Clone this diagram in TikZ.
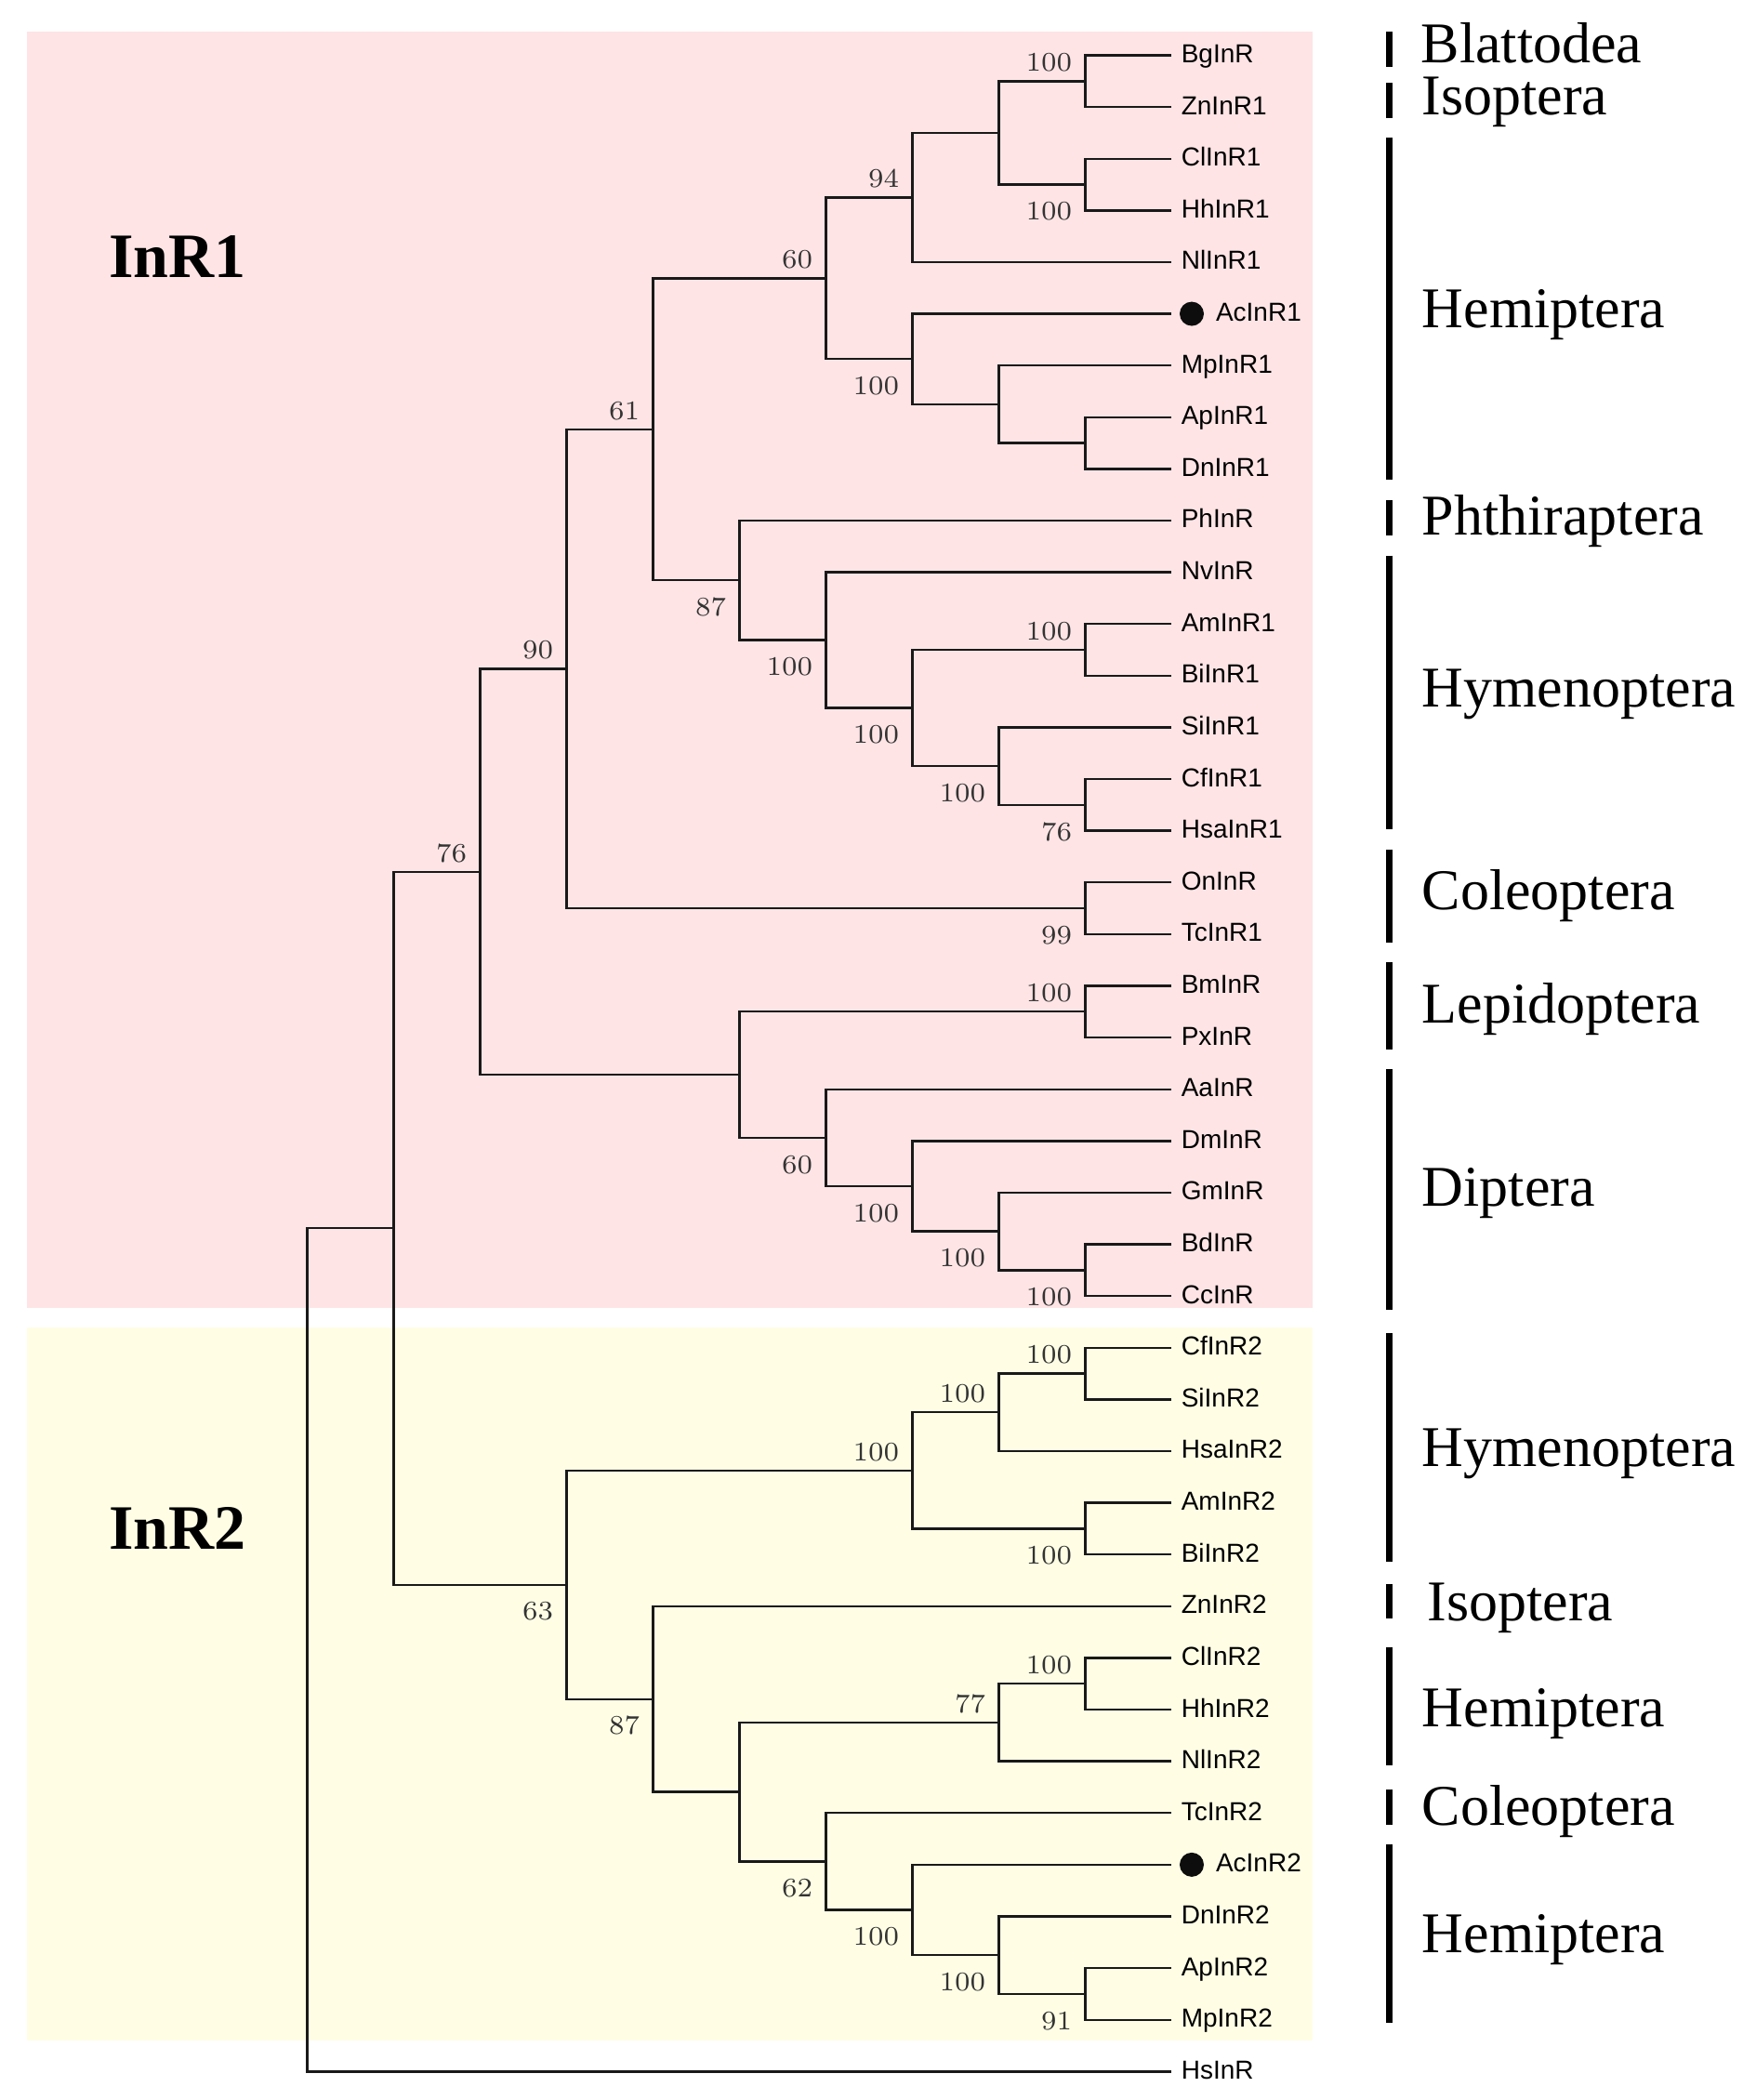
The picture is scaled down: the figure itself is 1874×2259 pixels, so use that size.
\documentclass[tikz,border=0pt]{standalone}
\usepackage{fontspec}
\usepackage{tikz}
\usetikzlibrary{positioning}
\newfontfamily\timesf{Liberation Serif}
\newfontfamily\arialf{Liberation Sans}
\definecolor{pinkbg}{RGB}{254,228,229}
\definecolor{yellowbg}{RGB}{255,254,229}

\begin{document}
\begin{tikzpicture}[
    x=0.25pt, y=-0.25pt,
    branch/.style={draw=black!90, line width=0.6pt},
    leaf/.style={anchor=west, inner xsep=2.6pt, inner ysep=0pt, outer sep=0pt, text height=4pt, text depth=0pt, font=\arialf\fontsize{7}{8}\selectfont},
    acdot/.style={circle, fill=black!95, inner sep=0pt, minimum size=6.5pt, outer sep=2.15pt, anchor=west},
    boot/.style={anchor=base east, inner sep=0pt, text=black!80, font=\fontsize{7.25}{8}\selectfont},
    bsup/.style={boot, xshift=-3.35pt, yshift=2.65pt},
    bsdn/.style={boot, xshift=-3.35pt, yshift=-9.55pt},
    taxon/.style={anchor=base west, inner sep=0pt, font=\timesf\fontsize{15.5}{18}\selectfont},
    group/.style={anchor=base west, inner sep=0pt, font=\timesf\bfseries\fontsize{17}{20}\selectfont},
    bar/.style={line width=1.7pt}
]
\useasboundingbox (0,0) rectangle (1874,2259);

% Background panels
\fill[pinkbg] (28.7,33.5) rectangle (1411.5,1407);
\fill[yellowbg] (28.7,1428) rectangle (1411.5,2194.5);
\node[group] (g1) at (116.7,298.3) {InR1};
\node[group] (g2) at (116.7,1666.7) {InR2};

% Tree (x = depth, y = leaf row)
\begin{scope}[shift={(330.4,59.5)}, x=23.25pt, y=-13.9025pt]

% Leaves
\foreach \nm/\txt/\i in {bg/BgInR/0, zn1/ZnInR1/1, cl1/ClInR1/2, hh1/HhInR1/3, nl1/NlInR1/4,
    mp1/MpInR1/6, ap1/ApInR1/7, dn1/DnInR1/8, ph/PhInR/9, nv/NvInR/10, am1/AmInR1/11,
    bi1/BiInR1/12, si1/SiInR1/13, cf1/CfInR1/14, hsa1/HsaInR1/15, on/OnInR/16, tc1/TcInR1/17,
    bm/BmInR/18, px/PxInR/19, aa/AaInR/20, dm/DmInR/21, gm/GmInR/22, bd/BdInR/23, cc/CcInR/24,
    cf2/CfInR2/25, si2/SiInR2/26, hsa2/HsaInR2/27, am2/AmInR2/28, bi2/BiInR2/29, zn2/ZnInR2/30,
    cl2/ClInR2/31, hh2/HhInR2/32, nl2/NlInR2/33, tc2/TcInR2/34, dn2/DnInR2/36, ap2/ApInR2/37,
    mp2/MpInR2/38, hs/HsInR/39}
  \node[leaf] (\nm) at (10,\i) {\txt};

% Marked leaves
\node[acdot] (ac1) at (10,5) {};
\node[leaf, right=-1.5pt of ac1] (ac1t) {AcInR1};
\node[acdot] (ac2) at (10,35) {};
\node[leaf, right=-1.5pt of ac2] (ac2t) {AcInR2};

% Internal nodes
\coordinate (root) at (0,30.8447);
\coordinate (ins) at (1,22.6895);
\coordinate (r1) at (2,15.7930);
\coordinate (r1a) at (3,11.8672);
\coordinate (r1b) at (4,7.2344);
\coordinate (hemi1) at (6,4.3125);
\coordinate (hemi1a) at (7,2.75);
\coordinate (hemi1c) at (8,1.5);
\coordinate (bgzn) at (9,0.5);
\coordinate (clhh1) at (9,2.5);
\coordinate (hemi1b) at (7,5.875);
\coordinate (aphid1) at (8,6.75);
\coordinate (apdn1) at (9,7.5);
\coordinate (hym1ph) at (5,10.15625);
\coordinate (hym1) at (6,11.3125);
\coordinate (hym1a) at (7,12.625);
\coordinate (ambi1) at (9,11.5);
\coordinate (ant1) at (8,13.75);
\coordinate (cfhsa1) at (9,14.5);
\coordinate (cole1) at (9,16.5);
\coordinate (lepdip) at (5,19.71875);
\coordinate (bmpx) at (9,18.5);
\coordinate (dip) at (6,20.9375);
\coordinate (dipa) at (7,21.875);
\coordinate (dipb) at (8,22.75);
\coordinate (bdcc) at (9,23.5);
\coordinate (r2) at (3,29.5859);
\coordinate (hym2) at (7,27.375);
\coordinate (ant2) at (8,26.25);
\coordinate (cfsi2) at (9,25.5);
\coordinate (ambi2) at (9,28.5);
\coordinate (r2b) at (4,31.796875);
\coordinate (r2c) at (5,33.59375);
\coordinate (hemi2) at (8,32.25);
\coordinate (clhh2) at (9,31.5);
\coordinate (r2d) at (6,34.9375);
\coordinate (hemi2b) at (7,35.875);
\coordinate (aphid2) at (8,36.75);
\coordinate (apmp2) at (9,37.5);
\end{scope}

% Branches
\draw[branch] (root) |- (ins) (root) |- (hs);
\draw[branch] (ins) |- (r1) (ins) |- (r2);
\draw[branch] (r1) |- (r1a) (r1) |- (lepdip);
\draw[branch] (r1a) |- (r1b) (r1a) |- (cole1);
\draw[branch] (r1b) |- (hemi1) (r1b) |- (hym1ph);
\draw[branch] (hemi1) |- (hemi1a) (hemi1) |- (hemi1b);
\draw[branch] (hemi1a) |- (hemi1c) (hemi1a) |- (nl1);
\draw[branch] (hemi1c) |- (bgzn) (hemi1c) |- (clhh1);
\draw[branch] (bgzn) |- (bg) (bgzn) |- (zn1);
\draw[branch] (clhh1) |- (cl1) (clhh1) |- (hh1);
\draw[branch] (hemi1b) |- (ac1) (hemi1b) |- (aphid1);
\draw[branch] (aphid1) |- (mp1) (aphid1) |- (apdn1);
\draw[branch] (apdn1) |- (ap1) (apdn1) |- (dn1);
\draw[branch] (hym1ph) |- (ph) (hym1ph) |- (hym1);
\draw[branch] (hym1) |- (nv) (hym1) |- (hym1a);
\draw[branch] (hym1a) |- (ambi1) (hym1a) |- (ant1);
\draw[branch] (ambi1) |- (am1) (ambi1) |- (bi1);
\draw[branch] (ant1) |- (si1) (ant1) |- (cfhsa1);
\draw[branch] (cfhsa1) |- (cf1) (cfhsa1) |- (hsa1);
\draw[branch] (cole1) |- (on) (cole1) |- (tc1);
\draw[branch] (lepdip) |- (bmpx) (lepdip) |- (dip);
\draw[branch] (bmpx) |- (bm) (bmpx) |- (px);
\draw[branch] (dip) |- (aa) (dip) |- (dipa);
\draw[branch] (dipa) |- (dm) (dipa) |- (dipb);
\draw[branch] (dipb) |- (gm) (dipb) |- (bdcc);
\draw[branch] (bdcc) |- (bd) (bdcc) |- (cc);
\draw[branch] (r2) |- (hym2) (r2) |- (r2b);
\draw[branch] (hym2) |- (ant2) (hym2) |- (ambi2);
\draw[branch] (ant2) |- (cfsi2) (ant2) |- (hsa2);
\draw[branch] (cfsi2) |- (cf2) (cfsi2) |- (si2);
\draw[branch] (ambi2) |- (am2) (ambi2) |- (bi2);
\draw[branch] (r2b) |- (zn2) (r2b) |- (r2c);
\draw[branch] (r2c) |- (hemi2) (r2c) |- (r2d);
\draw[branch] (hemi2) |- (clhh2) (hemi2) |- (nl2);
\draw[branch] (clhh2) |- (cl2) (clhh2) |- (hh2);
\draw[branch] (r2d) |- (tc2) (r2d) |- (hemi2b);
\draw[branch] (hemi2b) |- (ac2) (hemi2b) |- (aphid2);
\draw[branch] (aphid2) |- (dn2) (aphid2) |- (apmp2);
\draw[branch] (apmp2) |- (ap2) (apmp2) |- (mp2);

% Bootstrap values
\foreach \c/\v in {r1/76, r1a/90, r1b/61, hemi1/60, hemi1a/94, bgzn/100, ambi1/100,
    bmpx/100, hym2/100, ant2/100, cfsi2/100, hemi2/77, clhh2/100}
  \node[bsup] (bs-\c) at (\c) {\v};
\foreach \c/\v in {clhh1/100, hemi1b/100, hym1ph/87, hym1/100, hym1a/100, ant1/100,
    cfhsa1/76, cole1/99, dip/60, dipa/100, dipb/100, bdcc/100, r2/63, ambi2/100,
    r2b/87, r2d/62, hemi2b/100, aphid2/100, apmp2/91}
  \node[bsdn] (bs-\c) at (\c) {\v};

% Orders
\draw[bar] (1494.5,34) -- (1494.5,72);
\draw[bar] (1494.5,89) -- (1494.5,127);
\draw[bar] (1494.5,148) -- (1494.5,516);
\draw[bar] (1494.5,538) -- (1494.5,576);
\draw[bar] (1494.5,597.5) -- (1494.5,892);
\draw[bar] (1494.5,913.5) -- (1494.5,1014);
\draw[bar] (1494.5,1035) -- (1494.5,1129);
\draw[bar] (1494.5,1150) -- (1494.5,1409);
\draw[bar] (1494.5,1434) -- (1494.5,1680);
\draw[bar] (1494.5,1704) -- (1494.5,1741);
\draw[bar] (1494.5,1771.5) -- (1494.5,1898.5);
\draw[bar] (1494.5,1924.5) -- (1494.5,1962.5);
\draw[bar] (1494.5,1983.5) -- (1494.5,2176);

\node[taxon] (blat) at (1528,67) {Blattodea};
\node[taxon] (isop1) at (1529,123.5) {Isoptera};
\node[taxon] (hemi1t) at (1529,352) {Hemiptera};
\node[taxon] (phth) at (1529,575) {Phthiraptera};
\node[taxon] (hym1t) at (1529,760) {Hymenoptera};
\node[taxon] (cole1t) at (1529,978.5) {Coleoptera};
\node[taxon] (lepi) at (1529,1100) {Lepidoptera};
\node[taxon] (dipt) at (1529,1297.5) {Diptera};
\node[taxon] (hym2t) at (1529,1577.5) {Hymenoptera};
\node[taxon] (isop2) at (1535,1743) {Isoptera};
\node[taxon] (hemi2t) at (1529,1857) {Hemiptera};
\node[taxon] (cole2t) at (1529,1963) {Coleoptera};
\node[taxon] (hemi3t) at (1529,2100) {Hemiptera};

\end{tikzpicture}
\end{document}
